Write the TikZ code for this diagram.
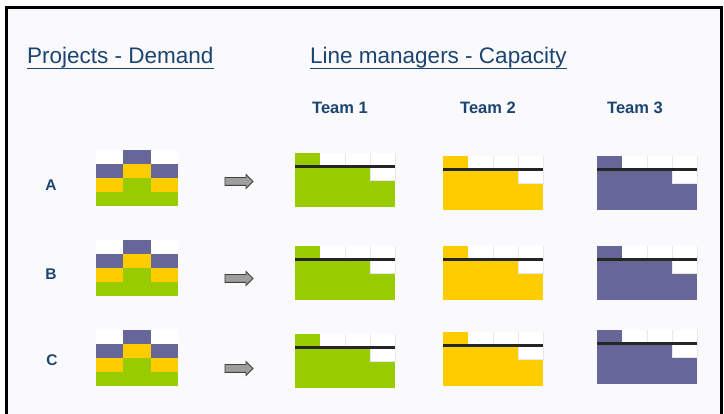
\documentclass[tikz,border=0pt]{standalone}
\usepackage{fontspec}
\setmainfont{Liberation Sans}
\usetikzlibrary{shapes.arrows}
\definecolor{cGrn}{HTML}{99CC00}
\definecolor{cYel}{HTML}{FFCC00}
\definecolor{cPur}{HTML}{666699}
\definecolor{cHead}{HTML}{1B4570}
\definecolor{cBg}{HTML}{FAFAFC}
\tikzset{
  frame/.style={line width=2.5pt,black},
  grid/.style={line width=.8pt,black!9},
  limit/.style={line width=2.3pt,black!85},
  head/.style={font=\fontsize{22.5}{27}\selectfont,text=cHead,inner sep=0pt,anchor=base west},
  uline/.style={line width=1.1pt,cHead},
  team/.style={font=\fontsize{16.5}{20}\selectfont\bfseries,text=cHead,inner sep=0pt,anchor=base},
  proj/.style={font=\fontsize{15.5}{18}\selectfont\bfseries,text=cHead,inner sep=0pt},
  move/.style={single arrow,draw=black!75,fill=black!38,line width=.8pt,inner xsep=0pt,inner ysep=3.5pt,
    minimum height=28pt,single arrow head extend=3pt},
}
% demand stack: 3 columns x 4 rows
\newcommand{\demand}[2]{%
  \foreach \r/\row in {0/{white,cPur,white},1/{cPur,cYel,cPur},2/{cYel,cGrn,cYel},3/{cGrn,cGrn,cGrn}}{
    \foreach \c [count=\k from 0] in \row {
      \fill[\c] (#1+\k*27.33,#2+\r*14) rectangle ++(27.33,14);
    }
  }
}
% team capacity: 4 columns x 4 rows, black limit line under the first row
\newcommand{\capacity}[3]{%
  \fill[white] (#1,#2) rectangle ++(100,27);
  \fill[#3] (#1,#2) rectangle ++(25,13.5);
  \fill[#3] (#1,#2+13.5) rectangle ++(75,13.5);
  \fill[#3] (#1,#2+27) rectangle ++(100,27);
  \foreach \k in {2,3,4}{\draw[grid] (#1+\k*25,#2) -- ++(0,13.5);}
  \draw[grid] (#1+75,#2+13.5) -- ++(0,13.5) -- ++(25,0) -- ++(0,-13.5);
  \draw[limit] (#1,#2+13.5) -- ++(100,0);
}
\begin{document}
\begin{tikzpicture}[x=1pt,y=-1pt]
  \useasboundingbox (0,0) rectangle (724,414);
  \fill[cBg] (6,7) rectangle (722,414);
  \draw[frame] (6.5,414) -- (6.5,7.5) -- (721.5,7.5) -- (721.5,414);
  % headings
  \node[head] (pd) at (27,64) {Projects - Demand};
  \draw[uline] ([yshift=-4.5pt]pd.base west) -- ([yshift=-4.5pt]pd.base east);
  \node[head] (lm) at (310,64) {Line managers - Capacity};
  \draw[uline] ([yshift=-4.5pt]lm.base west) -- ([yshift=-4.5pt]lm.base east);
  \node[team] (t1) at (340,114) {Team 1};
  \node[team] (t2) at (488,114) {Team 2};
  \node[team] (t3) at (635,114) {Team 3};
  % projects
  \node[proj] (pA) at (51,185) {A};
  \node[proj] (pB) at (51,274) {B};
  \node[proj] (pC) at (52,360) {C};
  \demand{96}{150}
  \demand{96}{240}
  \demand{96}{330}
  \node[move] (mA) at (237,181.5) {};
  \node[move] (mB) at (237,278.5) {};
  \node[move] (mC) at (237,368.5) {};
  % capacity per team
  \capacity{295}{153}{cGrn}
  \capacity{443}{156}{cYel}
  \capacity{597}{156}{cPur}
  \capacity{295}{246}{cGrn}
  \capacity{443}{246}{cYel}
  \capacity{597}{246}{cPur}
  \capacity{295}{334}{cGrn}
  \capacity{443}{332}{cYel}
  \capacity{597}{330}{cPur}
\end{tikzpicture}
\end{document}
